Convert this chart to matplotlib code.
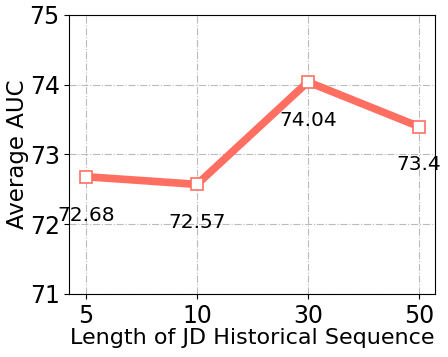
import numpy as np
import matplotlib.pyplot as plt

# 数据
seq_lengths = ['5', '10', '30', '50']
auc_values = [72.68, 72.57, 74.04, 73.4]
y_ticks = [71, 72, 73, 74, 75]

fig, ax = plt.subplots(figsize=(4.48, 3.57), dpi=100)

x = np.arange(len(seq_lengths))
ax.plot(x, auc_values, color='#FF6F61', linewidth=5.5,
        marker='s', markersize=8, markerfacecolor='white',
        markeredgecolor='#FF6F61', markeredgewidth=1.2, zorder=3)

# 数值标注
for xi, v in zip(x, auc_values):
    ax.text(xi, v - 0.55, f'{v:g}', ha='center', va='center', fontsize=14.5)

ax.set_xticks(x)
ax.set_xticklabels(seq_lengths)
ax.set_yticks(y_ticks)
ax.set_xlim(-0.15, 3.15)
ax.set_ylim(71, 75)
ax.tick_params(labelsize=17)
ax.set_xlabel('Length of JD Historical Sequence', fontsize=16, labelpad=0)
ax.set_ylabel('Average AUC', fontsize=16.5, labelpad=0)
ax.grid(True, linestyle='-.', color='#bbbbbb', linewidth=0.8)

plt.subplots_adjust(left=0.155, right=0.972, top=0.958, bottom=0.177)
plt.savefig('out.png', dpi=100)
